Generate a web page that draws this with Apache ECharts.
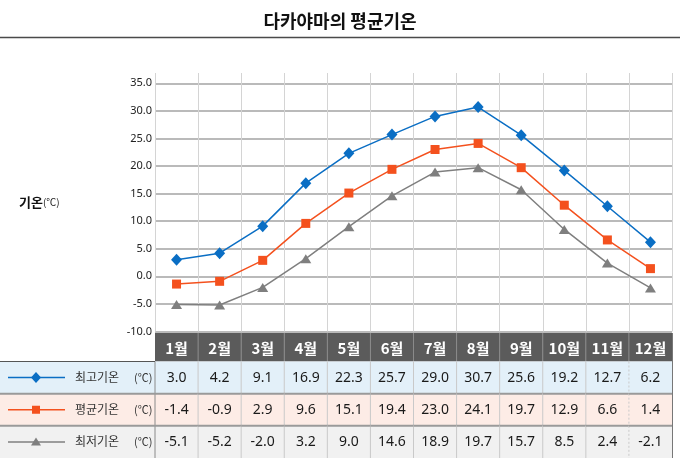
<!DOCTYPE html>
<html><head><meta charset="utf-8">
<script src="https://cdn.jsdelivr.net/npm/echarts@6/dist/echarts.min.js"></script>
<style>html,body{margin:0;padding:0;background:#fff}#c{width:680px;height:458px}</style>
</head><body><div id="c"></div>
<script>
const months = ['1월','2월','3월','4월','5월','6월','7월','8월','9월','10월','11월','12월'];
const maxTemp = [3.0,4.2,9.1,16.9,22.3,25.7,29.0,30.7,25.6,19.2,12.7,6.2];
const avgTemp = [-1.4,-0.9,2.9,9.6,15.1,19.4,23.0,24.1,19.7,12.9,6.6,1.4];
const minTemp = [-5.1,-5.2,-2.0,3.2,9.0,14.6,18.9,19.7,15.7,8.5,2.4,-2.1];
const seriesNames = ['최고기온','평균기온','최저기온'];
const yMin = -10, yMax = 35, yStep = 5;

const colors = ['#0a6ec4','#f4511e','#7f7f7f'];
const rowBg = ['#e3f0f9','#fdece6','#f1f1f1'];
const FONT = '"Noto Sans CJK KR", "Noto Sans", sans-serif';
const W = 680, H = 458;
const L = 155, R = 8;
const plotTop = 83.3, plotBot = 331.5;
const headTop = 333, headBot = 361.5;
const rowH = (H - headBot) / 3;
const rowsData = [maxTemp, avgTemp, minTemp];

const tableData = [];
for (let r = 0; r < 3; r++) for (let c = 0; c < 12; c++) tableData.push([c, r, rowsData[r][c]]);

const chart = echarts.init(document.getElementById('c'), null, {renderer: 'canvas'});

const graphics = [];
// title underline
graphics.push({type:'line', shape:{x1:0,y1:37.5,x2:W,y2:37.5}, style:{stroke:'#4a4a4a', lineWidth:1.5}});
// y axis name
graphics.push({type:'text', left:19, top:196, style:{text:'{a|기온}{b|(℃)}', rich:{a:{fontSize:13,fontWeight:'bold',fontFamily:FONT,fill:'#111'}, b:{fontSize:10,fontFamily:FONT,fill:'#222'}}}});
// left area of table
for (let r = 0; r < 3; r++) {
  const y0 = headBot + r * rowH, cy = y0 + rowH / 2;
  graphics.push({type:'rect', shape:{x:0,y:y0,width:L,height:rowH}, style:{fill:rowBg[r]}, z:1});
  graphics.push({type:'line', shape:{x1:8,y1:cy,x2:65,y2:cy}, style:{stroke:colors[r], lineWidth:1.5}, z:3});
  let sym;
  if (r === 0) sym = {type:'polygon', shape:{points:[[36,cy-5.5],[41,cy],[36,cy+5.5],[31,cy]]}, style:{fill:colors[r]}, z:4};
  else if (r === 1) sym = {type:'rect', shape:{x:32,y:cy-4,width:8,height:8}, style:{fill:colors[r]}, z:4};
  else sym = {type:'polygon', shape:{points:[[36,cy-4.5],[41,cy+3.5],[31,cy+3.5]]}, style:{fill:colors[r]}, z:4};
  graphics.push(sym);
  graphics.push({type:'text', x:75, y:cy, style:{text:seriesNames[r], fontSize:12, fontFamily:FONT, fill:'#333', verticalAlign:'middle'}, z:4});
  graphics.push({type:'text', x:134, y:cy, style:{text:'(℃)', fontSize:11, fontFamily:FONT, fill:'#333', verticalAlign:'middle'}, z:4});
  if (r > 0) graphics.push({type:'line', shape:{x1:0,y1:y0,x2:L,y2:y0}, style:{stroke:'#9a9a9a', lineWidth:2}, z:5});
}
graphics.push({type:'line', shape:{x1:0,y1:headBot,x2:L,y2:headBot}, style:{stroke:'#555', lineWidth:1}, z:5});
graphics.push({type:'line', shape:{x1:W-R+0.5,y1:headTop,x2:W-R+0.5,y2:H}, style:{stroke:'#777', lineWidth:1}, z:5});

const option = {
  animation: false,
  backgroundColor: '#fff',
  title: {text:'다카야마의 평균기온', left:'center', top:7, textStyle:{fontSize:18, fontWeight:'bold', fontFamily:FONT, color:'#111'}},
  grid: [
    {left:L, right:R, top:plotTop, bottom:H-plotBot},
    {left:L, right:R, top:73, bottom:H-plotBot},
    {left:L, right:R, top:headTop, bottom:H-headBot},
    {left:L, right:R, top:headBot, bottom:0}
  ],
  xAxis: [
    {type:'category', gridIndex:0, data:months, boundaryGap:true, axisLine:{show:false}, axisTick:{show:false}, axisLabel:{show:false}, splitLine:{show:false}},
    {type:'category', gridIndex:1, data:months, boundaryGap:true, axisLine:{show:false}, axisTick:{show:false}, axisLabel:{show:false}, splitLine:{show:true, interval:0, lineStyle:{color:'#d4d4d4', width:1}}},
    {type:'category', gridIndex:2, data:months, show:false},
    {type:'category', gridIndex:3, data:months, show:false}
  ],
  yAxis: [
    {type:'value', gridIndex:0, min:yMin, max:yMax, interval:yStep, axisLine:{show:false}, axisTick:{show:false},
     axisLabel:{formatter:v=>v.toFixed(1), fontSize:11, color:'#222', margin:3, fontFamily:'"Noto Sans", sans-serif'},
     splitLine:{lineStyle:{color:'#a3a3a3', width:1.5}}},
    {type:'value', gridIndex:1, min:0, max:1, show:false},
    {type:'category', gridIndex:2, data:['h'], show:false},
    {type:'category', gridIndex:3, data:[0,1,2], inverse:true, show:false}
  ],
  series: [
    {name:seriesNames[0], type:'line', data:maxTemp, xAxisIndex:0, yAxisIndex:0, symbol:'diamond', symbolSize:[11,12], color:colors[0], lineStyle:{width:1.5}, z:5},
    {name:seriesNames[1], type:'line', data:avgTemp, xAxisIndex:0, yAxisIndex:0, symbol:'rect', symbolSize:9, color:colors[1], lineStyle:{width:1.5}, z:4},
    {name:seriesNames[2], type:'line', data:minTemp, xAxisIndex:0, yAxisIndex:0, symbol:'triangle', symbolSize:[11,9], color:colors[2], lineStyle:{width:1.5}, z:3},
    {type:'custom', xAxisIndex:2, yAxisIndex:2, data:months.map((m,i)=>[i,0]), silent:true,
     renderItem:(params, api)=>{
       const c = api.value(0);
       const p = api.coord([c, 0]); const s = api.size([1,1]);
       const x0 = p[0]-s[0]/2, y0 = p[1]-s[1]/2;
       const ch = [{type:'rect', shape:{x:x0,y:y0,width:s[0],height:s[1]}, style:{fill:'#5b5b5b'}},
         {type:'text', style:{text:months[c], x:p[0], y:p[1]+1, align:'center', verticalAlign:'middle', fontSize:15, fontWeight:'bold', fontFamily:FONT, fill:'#fff'}}];
       if (c > 0) ch.push({type:'line', shape:{x1:x0,y1:y0,x2:x0,y2:y0+s[1]}, style:{stroke:'#8a8a8a', lineWidth:1}});
       return {type:'group', children:ch};
     }},
    {type:'custom', xAxisIndex:3, yAxisIndex:3, data:tableData, silent:true,
     renderItem:(params, api)=>{
       const c = api.value(0), r = api.value(1), v = api.value(2);
       const p = api.coord([c, r]); const s = api.size([1,1]);
       const x0 = p[0]-s[0]/2, y0 = p[1]-s[1]/2;
       const ch = [{type:'rect', shape:{x:x0,y:y0,width:s[0]+0.5,height:s[1]}, style:{fill:rowBg[r]}},
         {type:'text', style:{text:v.toFixed(1), x:p[0], y:p[1], align:'center', verticalAlign:'middle', fontSize:14, fontFamily:'"Noto Sans", sans-serif', fill:'#1a1a1a'}}];
       ch.push({type:'line', shape:{x1:x0,y1:y0,x2:x0,y2:y0+s[1]}, style:{stroke: c===0 ? '#8a8a8a' : '#c9c9c9', lineWidth:1, lineDash: c===11 ? [2,2] : null}});
       if (r > 0) ch.push({type:'line', shape:{x1:x0,y1:y0,x2:x0+s[0],y2:y0}, style:{stroke:'#9a9a9a', lineWidth:2}});
       return {type:'group', children:ch};
     }}
  ],
  graphic: graphics
};
chart.setOption(option);
</script>
</body></html>
